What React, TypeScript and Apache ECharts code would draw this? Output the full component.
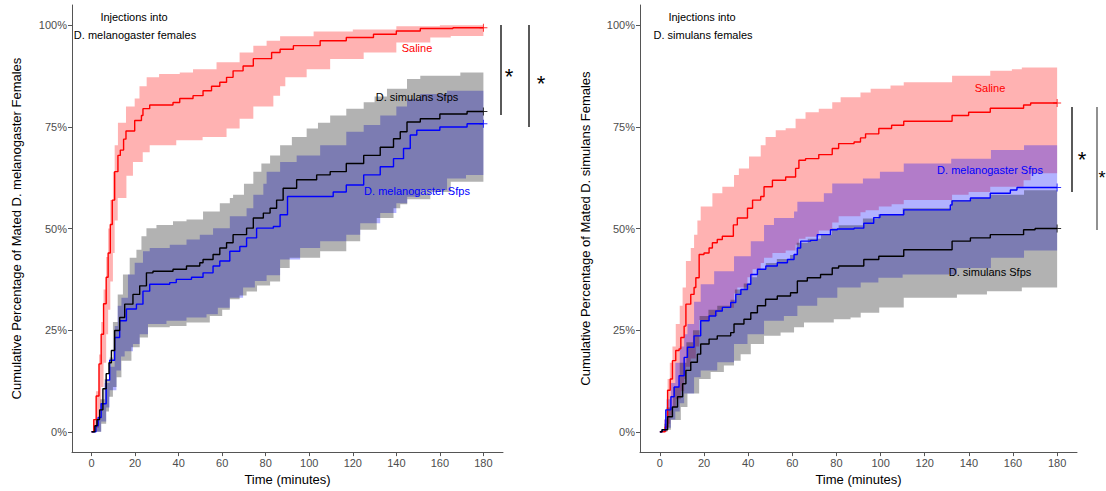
import React, { useEffect, useRef } from "react";
import * as echarts from "echarts";

// ---------- Tick values ----------
const X_TICKS = [0, 20, 40, 60, 80, 100, 120, 140, 160, 180];
const Y_TICKS = [0, 25, 50, 75, 100];

// ---------- LEFT PANEL: injections into D. melanogaster females ----------
// [time (min), cumulative % mated]
const L_SAL_LINE = [[0,0],[1,3],[2.1,8.8],[3.4,16.7],[4.4,24],[5.5,31.5],[6.7,38],[7.6,44],[8.6,51],[9.5,57],[10.6,64],[12.1,68],[13.2,69.3],[14.7,72],[15.8,74],[19.8,76.6],[22.9,77.8],[23.6,79.5],[26.7,80.4],[37.4,81],[40.5,82],[46.6,82.7],[51.2,83.9],[55.1,85],[58.9,86],[62,87.2],[65,88.8],[69.6,90],[74.3,91.8],[82.7,93.3],[86.6,94.1],[92.7,95],[105,96.2],[117,97],[129.5,97.8],[140,98.6],[151,99.2],[166,99.4],[180,99.4]];
const L_SAL_HI = [[0,0],[1,3],[2,10],[3.4,19],[4.4,27],[5.5,35],[6.7,43],[7.6,50],[8.6,57],[9.8,64],[10.6,70.5],[12.1,76],[15.8,80],[19.8,82],[22,85],[25.3,87.2],[31,88],[40.5,88.4],[46.6,89.2],[57.4,90.9],[68,93.3],[74.3,95],[80.4,96.2],[86.6,97.3],[102,98.5],[120,99],[140,99.8],[160,100],[180,100]];
const L_SAL_LO = [[0,0],[2,1],[3.4,5],[4.4,11],[5.5,17],[6.7,24],[7.6,30],[8.6,37],[9.8,44],[10.6,52],[12,57.5],[16,63],[19,66.4],[23.5,68.8],[26.7,70.5],[38.9,71.7],[51,72.5],[62,74.6],[68,77],[74.3,80],[83.5,82.7],[86.6,85],[89,87.2],[98.8,89.2],[109.6,91.7],[125,93.3],[140,95.8],[155.6,97],[165,97.4],[180,97.4]];

const L_SIM_LINE = [[0,0],[1.5,1.5],[2.5,3],[3.7,5.4],[5.2,10.6],[6.7,14.3],[8,17],[9.1,20],[10.6,24.9],[12.9,28.1],[15.2,31.4],[19,33.8],[22.1,35.9],[25.2,39.1],[28.2,39.5],[37.4,40],[43.6,40.8],[49.7,41.6],[51.2,42.4],[55.8,43.6],[58.9,45.2],[62,46.5],[65,48.5],[71.2,50.1],[74.3,52.6],[78.9,53.8],[82,55],[85,57],[88,59.9],[94.2,62],[103.4,63.2],[109.6,64],[117,66],[125,68],[132.6,70],[138.7,72.1],[141.8,73.8],[144.9,76.2],[151,77],[160,78.2],[172.5,78.8],[180,78.8]];
const L_SIM_HI = [[0,0],[2,3],[4,8],[6,13],[8.3,18.3],[9.8,27],[12,33.8],[14.4,38.7],[17.5,42.8],[20.6,44.8],[22.9,48.1],[25.2,50.1],[29.8,50.9],[37.4,51.8],[43.6,52.2],[51.2,54.2],[58.9,56.2],[63.5,57.5],[65,58.3],[70,61],[74.3,64],[78,66],[82,68],[86.6,70.5],[92,72.5],[98.8,74.6],[104,76],[109.6,77.8],[117,79.5],[125,81.1],[130,82.5],[135.7,84.4],[144.9,86.8],[151,87.6],[169.4,88.4],[180,88.4]];
const L_SIM_LO = [[0,0],[4.4,2],[6.7,5],[8,8.6],[9.8,11],[11.5,13.4],[13.7,17.5],[18.3,20.8],[22.1,23.2],[25.9,25.7],[35.9,26],[43.6,26.9],[54.3,28.5],[60,30],[63.5,32.6],[68,33.5],[71.2,34.5],[76,36],[82,37],[86.6,40.3],[91,42.8],[105,44.4],[117,46.9],[123.4,49.7],[131,52.6],[138.7,55],[141.8,56],[145,57.2],[155.6,59],[165,61.5],[180,61.5]];

const L_MEL_LINE = [[0,0],[2,1.5],[3,3.5],[4.4,6.9],[6.7,12.7],[8.3,17.6],[10.6,23.2],[12.9,27.3],[16,30.2],[20.6,31.4],[23.6,34.6],[26.7,36.3],[35.9,36.7],[38.9,37.5],[45.9,38],[51.2,39.1],[55.8,40.8],[58.9,42],[63.5,44.4],[68.1,45.6],[71.2,47.7],[75.8,50.1],[83.5,50.5],[86.6,53.4],[90,57.9],[111,59],[117,60.7],[125,63.2],[132.6,65.2],[138.7,67.2],[143.3,69.7],[146.4,73],[149.4,74.2],[160,75],[172.5,75.8],[180,75.8]];
const L_MEL_HI = [[0,0],[2,3],[4,7],[6,12],[8.3,16],[10.6,26],[12,31],[13.7,33],[16.7,38.7],[19.8,41.6],[23.6,44.4],[26.7,45.2],[35.9,46],[43.6,47.3],[49.7,48.5],[55.8,50.1],[63.5,53],[71.2,55],[74.3,58.3],[78.9,61],[80.4,64],[86.6,66.4],[94.2,68],[105,70.5],[117,73.8],[125,75.5],[132.6,77.8],[140,80],[144.9,81.9],[151,83.1],[163.3,83.9],[180,83.9]];
const L_MEL_LO = [[0,0],[4.4,2.5],[6.7,6],[8.3,10.2],[11.4,15.1],[13.5,18.5],[15.2,19.8],[19,21.6],[22.1,24],[25.9,26.5],[34.4,27.3],[43.6,28.1],[52.8,28.9],[58,30.5],[63.5,33],[69.6,35.5],[75,37.1],[80.4,38.5],[86.6,42.4],[95.8,45.2],[105,46.9],[117,48.5],[123.4,51.3],[132.6,53.8],[140,56.2],[145,57.8],[151,59.5],[163.3,62.3],[172,63.2],[180,63.2]];

// ---------- RIGHT PANEL: injections into D. simulans females ----------
const R_SAL_LINE = [[0,0],[2.4,1.2],[3.5,10.2],[4.7,13],[5.7,17.5],[7.2,20],[8.7,20.4],[9.5,23.2],[11,26],[11.8,31.4],[14,33.8],[15.5,35.5],[16.3,37.9],[17.8,43.6],[20,44],[22.3,45.2],[23.8,46.5],[26,47.3],[28.3,48.1],[33.3,50.9],[35.1,52.6],[39.7,55],[42,57],[45.7,57.9],[47.2,60.3],[51,61.9],[57,62.7],[61.5,64.8],[63,66.8],[66,67.2],[72,68.2],[78.1,69.7],[81,70.9],[88,71.3],[90.9,72.3],[93.2,73.3],[99.2,74.6],[105,75.4],[110.5,76.4],[132.4,77.8],[139.9,78.6],[149.7,79.6],[164.8,80.4],[168,80.9],[180,80.9]];
const R_SAL_HI = [[0,0],[2,3],[3.5,13],[4.5,17],[5.7,21],[7.2,26.5],[9,31],[10.3,35.5],[11.8,42],[14,45.2],[15.5,48.5],[17,52],[18.5,55.4],[23.8,58.7],[28.3,60.3],[33.6,63.2],[35.8,64.8],[40.4,67.7],[45.7,70.5],[47.9,72.5],[52.5,74.2],[57,74.7],[61.5,77],[66,78.6],[72,79.5],[78.1,81.1],[81.9,82.3],[90.9,83.5],[95.5,84.4],[104.5,85.2],[110.5,86],[132.4,87.6],[149.7,88.8],[159.5,89.2],[164,89.6],[180,89.6]];
const R_SAL_LO = [[0,0],[3.5,2],[4.7,4],[5.7,6],[7.2,8],[9.5,10],[11,13],[11.8,16],[14,18],[16.3,21],[17.8,27.5],[22.3,28.5],[26,29.5],[28.3,30.5],[33.6,34],[35.1,35.5],[39.7,38],[42,40],[45.7,41.5],[47.2,42.8],[51,44],[57,44.6],[61.5,46],[63,47.5],[66,48],[72,49.5],[78.1,51.5],[81,53],[90.9,54],[93.2,54.5],[99.2,55.4],[105,56],[110.5,57],[132.4,58.3],[139.9,59],[149.7,60.3],[164.8,61.9],[168,63.6],[180,63.6]];

const R_MEL_LINE = [[0,0],[1,0.5],[2.7,5.4],[5,8.6],[6.5,11],[8.7,13.8],[11,18.3],[12.5,20.8],[15.5,23.6],[18.5,27.3],[22.3,28.5],[25.3,29.7],[28.3,30.6],[32.1,31.8],[34.4,33.8],[36.7,35],[39.7,36.3],[41.2,38.7],[44.2,40],[48,40.8],[53.2,41.6],[57.8,42.4],[60.8,43.6],[62.3,45.2],[63.8,46.9],[68.3,47.1],[71.3,48.5],[77.3,49.7],[80.4,49.9],[88,50.1],[92.4,51.3],[96.9,52.7],[99.7,53.4],[110.5,54.6],[131.6,55.8],[132.4,56.8],[140.7,57.5],[149.7,58.7],[158.8,59.5],[161.8,60.1],[180,60.1]];
const R_MEL_HI = [[0,0],[2,3],[3,8],[5,12],[7,17],[9,21],[11,24],[12.5,26.5],[15.5,32],[18.5,36.3],[24.6,39.5],[33.6,43.2],[41.2,46.9],[47.2,50.9],[51.7,52.6],[60.8,54.2],[62.3,56.6],[74.3,58.7],[78.1,61.1],[92,62.3],[99.7,64],[110.5,66],[132,67.2],[150,69.3],[165,70.5],[180,70.5]];
const R_MEL_LO = [[0,0],[3,1],[5,3],[7,5],[9,7],[11,9.4],[15.5,13.4],[18.5,15.1],[26,17.1],[33.6,21.6],[39.7,24],[47.2,27.3],[56.2,28.5],[62.3,31],[71.3,33],[80.4,35.5],[91,36.7],[99,37.9],[110,38.7],[134.6,40.3],[150,42.8],[165,44.6],[180,44.6]];

const R_SIM_LINE = [[0,0],[1,0.5],[3.5,3.7],[5.7,6.1],[8,8.6],[10.3,11.8],[11.8,15.1],[14,17.1],[17,19.1],[18.5,21.6],[22.3,22.8],[26,23.6],[32.1,24.4],[33.6,26.5],[38.1,27.7],[41.2,29.3],[44.2,31],[47.9,32.6],[53.2,33.4],[59.2,34.2],[62.3,37.1],[66.8,37.9],[72.8,38.7],[78.1,40.3],[81,40.8],[92.4,42.4],[99.2,43.2],[110.5,44.8],[132.4,46.9],[140.7,47.7],[149.7,48.5],[164.8,49.7],[170,50],[180,50]];
const R_SIM_HI = [[0,0],[2,2],[3,6],[6,11],[9,17],[12,22],[15,25],[18,28.5],[22,30],[26,31],[32,32.5],[34,35],[38,36.5],[41,38],[44,40],[48,41.5],[53,42.5],[59,43.5],[62,46.5],[67,47.5],[73,48.5],[78,50],[81,50.8],[92,52.5],[99,53.5],[110,55],[132,57],[141,57.5],[150,58.3],[165,59.4],[180,59.4]];
const R_SIM_LO = [[0,0],[3,0.5],[5,2.9],[9.5,6.1],[12.5,9.4],[17.8,13],[23,14.7],[29,16.3],[33.6,17.5],[36.6,19.1],[41.2,21.6],[47.2,23.6],[54.7,24.4],[60.8,25.7],[65.3,26.9],[78.8,27.7],[86.4,28.1],[91,29.3],[99.4,30.6],[110.5,33],[134.6,33.8],[148.2,34.6],[164,35.5],[180,35.5]];

// ---------- styling ----------
const FONT = "'Liberation Sans', Arial, Helvetica, sans-serif";
const RED = "#ff0000";
const BLUE = "#0000ff";
const BLACK = "#000000";
const RED_FILL = "rgba(255,0,0,0.3)";
const BLUE_FILL = "rgba(0,0,255,0.3)";
const GRAY_FILL = "rgba(0,0,0,0.3)";
const PLUS = "path://M-0.6,-5H0.6V-0.6H5V0.6H0.6V5H-0.6V0.6H-5V-0.6H-0.6Z";

function stepPoints(pairs: number[][], api: any) {
  const pts: number[][] = [];
  for (let i = 0; i < pairs.length; i++) {
    const [t, v] = pairs[i];
    pts.push(api.coord([t, v]));
    if (i + 1 < pairs.length) pts.push(api.coord([pairs[i + 1][0], v]));
  }
  return pts;
}

function band(hi: number[][], lo: number[][], fill: string, idx: number) {
  return {
    type: "custom",
    xAxisIndex: idx,
    yAxisIndex: idx,
    silent: true,
    z: 1,
    data: [[0, 0]],
    renderItem: (_p: any, api: any) => {
      const up = stepPoints(hi, api);
      const dn = stepPoints(lo, api).reverse();
      return {
        type: "polygon",
        shape: { points: up.concat(dn) },
        style: { fill, stroke: "none" },
      };
    },
  };
}

function line(data: number[][], color: string, idx: number) {
  return {
    type: "line",
    xAxisIndex: idx,
    yAxisIndex: idx,
    step: "end",
    data,
    showSymbol: false,
    silent: true,
    z: 3,
    lineStyle: { color, width: 1.4 },
  };
}

function endMark(data: number[][], color: string, idx: number) {
  return {
    type: "scatter",
    xAxisIndex: idx,
    yAxisIndex: idx,
    data: [data[data.length - 1]],
    symbol: PLUS,
    symbolSize: 8,
    silent: true,
    z: 4,
    itemStyle: { color },
  };
}

function xAxis(idx: number) {
  return {
    type: "value",
    gridIndex: idx,
    min: -9,
    max: 189,
    name: "Time (minutes)",
    nameLocation: "middle",
    nameGap: 19,
    nameTextStyle: { color: "#000", fontSize: 13, fontFamily: FONT },
    axisLine: { show: true, onZero: false, lineStyle: { color: "#555", width: 1 } },
    axisTick: { show: true, length: 4, customValues: X_TICKS, lineStyle: { color: "#555" } },
    axisLabel: { customValues: X_TICKS, color: "#4d4d4d", fontSize: 11, margin: 5, fontFamily: FONT },
    splitLine: { show: false },
  };
}

function yAxis(idx: number, name: string, gap: number) {
  return {
    type: "value",
    gridIndex: idx,
    min: -5,
    max: 105,
    name,
    nameLocation: "middle",
    nameGap: gap,
    nameRotate: 90,
    nameTextStyle: { color: "#000", fontSize: 13, fontFamily: FONT },
    axisLine: { show: true, onZero: false, lineStyle: { color: "#555", width: 1 } },
    axisTick: { show: true, length: 4, customValues: Y_TICKS, lineStyle: { color: "#555" } },
    axisLabel: {
      customValues: Y_TICKS,
      formatter: "{value}%",
      color: "#4d4d4d",
      fontSize: 11,
      margin: 5,
      fontFamily: FONT,
    },
    splitLine: { show: false },
  };
}

function txt(x: number, y: number, text: string, fill: string, size = 11, align = "center") {
  return {
    type: "text",
    x,
    y,
    silent: true,
    z: 10,
    style: { text, fill, font: `${size}px ${FONT}`, align, verticalAlign: "middle" },
  };
}

function vline(x: number, y1: number, y2: number, stroke = "#000") {
  return {
    type: "line",
    silent: true,
    shape: { x1: x, y1, x2: x, y2 },
    style: { stroke, lineWidth: 1.3 },
  };
}

export default function App() {
  const ref = useRef<HTMLDivElement>(null);
  useEffect(() => {
    if (!ref.current) return;
    const chart = echarts.init(ref.current, null, { renderer: "svg" });
    const option: any = {
      animation: false,
      backgroundColor: "#ffffff",
      textStyle: { fontFamily: FONT },
      grid: [
        { left: 72, top: 5, width: 431, height: 450 },
        { left: 640, top: 5, width: 437, height: 450 },
      ],
      xAxis: [xAxis(0), xAxis(1)],
      yAxis: [
        yAxis(0, "Cumulative Percentage of Mated D. melanogaster Females", 49),
        yAxis(1, "Cumulative Percentage of Mated D. simulans Females", 48),
      ],
      series: [
        band(L_SAL_HI, L_SAL_LO, RED_FILL, 0),
        band(L_MEL_HI, L_MEL_LO, BLUE_FILL, 0),
        band(L_SIM_HI, L_SIM_LO, GRAY_FILL, 0),
        line(L_SAL_LINE, RED, 0),
        line(L_MEL_LINE, BLUE, 0),
        line(L_SIM_LINE, BLACK, 0),
        endMark(L_SAL_LINE, RED, 0),
        endMark(L_MEL_LINE, BLUE, 0),
        endMark(L_SIM_LINE, BLACK, 0),
        band(R_SAL_HI, R_SAL_LO, RED_FILL, 1),
        band(R_MEL_HI, R_MEL_LO, BLUE_FILL, 1),
        band(R_SIM_HI, R_SIM_LO, GRAY_FILL, 1),
        line(R_SAL_LINE, RED, 1),
        line(R_MEL_LINE, BLUE, 1),
        line(R_SIM_LINE, BLACK, 1),
        endMark(R_SAL_LINE, RED, 1),
        endMark(R_MEL_LINE, BLUE, 1),
        endMark(R_SIM_LINE, BLACK, 1),
      ],
      graphic: [
        txt(134, 17, "Injections into", "#000"),
        txt(135, 35, "D. melanogaster females", "#000"),
        txt(417, 48, "Saline", RED),
        txt(417, 97, "D. simulans Sfps", "#000"),
        txt(417, 191, "D. melanogaster Sfps", BLUE),
        txt(702, 17, "Injections into", "#000"),
        txt(703, 35, "D. simulans females", "#000"),
        txt(990, 88, "Saline", RED),
        txt(990, 170, "D. melanogaster Sfps", BLUE),
        txt(990, 272, "D. simulans Sfps", "#000"),
        vline(501, 25, 115),
        vline(529, 25, 127),
        txt(509, 76, "*", "#000", 22),
        txt(541, 83, "*", "#000", 22),
        vline(1072, 107, 192),
        vline(1097, 107, 230, "#555"),
        txt(1082, 159, "*", "#000", 22),
        txt(1102, 178, "*", "#000", 18),
      ],
    };
    chart.setOption(option);
    return () => chart.dispose();
  }, []);
  return (
    <div
      ref={ref}
      style={{ position: "absolute", left: 0, top: 0, width: 1106, height: 491, background: "#fff" }}
    />
  );
}
